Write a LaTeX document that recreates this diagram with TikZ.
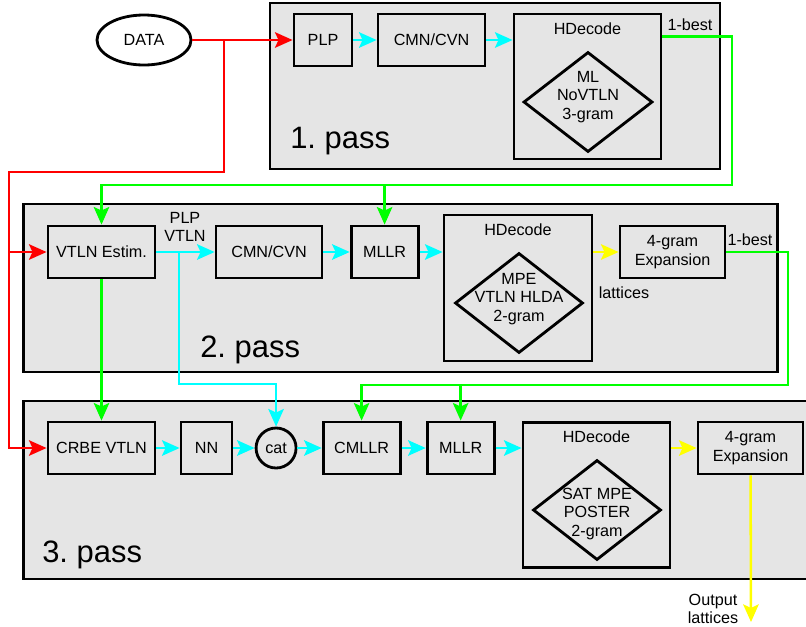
\documentclass[tikz,border=0pt]{standalone}
\usepackage{fontspec}
\setmainfont{Liberation Sans}
\usepackage{tikz}
\usetikzlibrary{shapes.geometric,arrows.meta,positioning,calc}

\definecolor{boxgray}{HTML}{E5E5E5}
\definecolor{wirered}{RGB}{255,0,0}
\definecolor{wirecyan}{RGB}{0,255,255}
\definecolor{wiregreen}{RGB}{0,255,0}
\definecolor{wireyellow}{RGB}{255,255,0}
\newcommand{\boxfont}{\fontsize{11.5}{13}\selectfont}
\newcommand{\passfont}{\fontsize{22}{26}\selectfont}
\frenchspacing

\begin{document}
\begin{tikzpicture}[
    x=0.025cm, y=-0.025cm,
    font=\boxfont,
    box/.style={rectangle, draw=black, fill=boxgray, line width=2pt, align=center, inner sep=0pt, minimum height=1.3cm},
    dec/.style={box, minimum width=3.675cm, minimum height=3.625cm, label={[anchor=center, yshift=-0.4cm]north:HDecode}},
    dia/.style={diamond, draw=black, fill=boxgray, line width=2pt, inner sep=0pt, minimum width=3.2cm, minimum height=2.5cm},
    passbox/.style={rectangle, draw=black, fill=boxgray, line width=2pt, inner sep=0pt},
    txt/.style={inner sep=0pt, align=center},
    arr/.style={-{Stealth[length=12.5pt, width=11pt, inset=2.5pt]}, line width=1.8pt, line join=miter}
]
    \useasboundingbox (0,0) rectangle (806,626);

    % the three passes
    \node [passbox, minimum width=11.25cm, minimum height=4.15cm] (pass1) at (495,86) {};
    \node [passbox, minimum width=18.825cm, minimum height=4.2cm] (pass2) at (400.5,288) {};
    \node [passbox, minimum width=19.7cm, minimum height=4.45cm] (pass3) at (418,490) {};
    \node [anchor=base west, font=\passfont, inner sep=0pt] (p1) at (290,148) {1. pass};
    \node [anchor=base west, font=\passfont, inner sep=0pt] (p2) at (200,357) {2. pass};
    \node [anchor=base west, font=\passfont, inner sep=0pt] (p3) at (42,562) {3. pass};

    \node [ellipse, draw=black, fill=white, line width=2pt, minimum width=2.35cm, minimum height=1.25cm, inner sep=0pt] (data) at (144,40) {DATA};

    % 1. pass
    \node [box, minimum width=1.45cm] (plp) at (323,40) {PLP};
    \node [box, minimum width=2.675cm, right=0.58cm of plp] (cmn1) {CMN/CVN};
    \node [dec] (hd1) at (587.5,86.5) {};
    \node [dia, minimum width=3.225cm] (d1) at (588,102) {};
    \node [txt] (t1) at (588,97) {ML\\NoVTLN\\3-gram};

    % 2. pass
    \node [box, minimum width=2.675cm] (vtln) at (101.5,252) {VTLN Estim.};
    \node [box, minimum width=2.65cm, right=1.455cm of vtln] (cmn2) {CMN/CVN};
    \node [box, minimum width=1.675cm, right=0.655cm of cmn2] (mllr2) {MLLR};
    \node [dec, minimum width=3.7cm, minimum height=3.65cm] (hd2) at (518,288) {};
    \node [dia] (d2) at (519,303) {};
    \node [txt] (t2) at (519,299) {MPE\\VTLN HLDA\\2-gram};
    \node [box, minimum width=2.625cm] (gram2) at (672.5,252) {4-gram\\Expansion};

    % 3. pass
    \node [box, minimum width=2.675cm] (crbe) at (101.5,448) {CRBE VTLN};
    \node [box, minimum width=1.275cm, right=0.58cm of crbe] (nn) {NN};
    \node [circle, draw=black, fill=boxgray, line width=2pt, inner sep=0pt, minimum size=1cm, right=0.53cm of nn] (cat) {cat};
    \node [box, minimum width=1.925cm, right=0.605cm of cat] (cmllr) {CMLLR};
    \node [box, minimum width=1.675cm, right=0.605cm of cmllr] (mllr3) {MLLR};
    \node [dec] (hd3) at (596.5,495) {};
    \node [dia] (d3) at (597,510) {};
    \node [txt] (t3) at (597,514) {SAT MPE\\POSTER\\2-gram};
    \node [box, minimum width=2.625cm] (gram3) at (750.5,448) {4-gram\\Expansion};

    % labels on the wires
    \node [txt] (best1) at (690,25) {1-best};
    \node [txt] (best2) at (750,240) {1-best};
    \node [txt] (plpv) at (185,227) {PLP\\VTLN};
    \node [txt] (lat) at (624,293) {lattices};
    \node [txt] (outl) at (713,609) {Output\\lattices};

    \coordinate (rs) at (224,40);
    \coordinate (rl) at (9,172);
    \coordinate (g1) at (732,185);
    \coordinate (g2) at (788,385);
    \coordinate (cs) at (179,252);
    \coordinate (cc) at (179,384);
    \coordinate (out) at (751,622);

    % data input
    \draw [arr, draw=wirered] (data) -- (plp);
    \draw [arr, draw=wirered] (rs) |- (rl) |- (vtln);
    \draw [arr, draw=wirered] (rl) |- (crbe);

    % features
    \draw [arr, draw=wirecyan] (plp) -- (cmn1);
    \draw [arr, draw=wirecyan] (cmn1) -- (cmn1 -| hd1.west);
    \draw [arr, draw=wirecyan] (vtln) -- (cmn2);
    \draw [arr, draw=wirecyan] (cmn2) -- (mllr2);
    \draw [arr, draw=wirecyan] (mllr2) -- (mllr2 -| hd2.west);
    \draw [arr, draw=wirecyan] (cs) -- (cc) -| (cat);
    \draw [arr, draw=wirecyan] (crbe) -- (nn);
    \draw [arr, draw=wirecyan] (nn) -- (cat);
    \draw [arr, draw=wirecyan] (cat) -- (cmllr);
    \draw [arr, draw=wirecyan] (cmllr) -- (mllr3);
    \draw [arr, draw=wirecyan] (mllr3) -- (mllr3 -| hd3.west);

    % hypotheses
    \draw [arr, draw=wiregreen] ([yshift=-0.6cm]hd1.north east) -| (g1) -| (vtln);
    \draw [arr, draw=wiregreen] (g1) -| (mllr2);
    \draw [arr, draw=wiregreen] (vtln) -- (crbe);
    \draw [arr, draw=wiregreen] (gram2) -| (g2) -| (cmllr);
    \draw [arr, draw=wiregreen] (g2) -| (mllr3);

    % lattices
    \draw [arr, draw=wireyellow] (hd2.east |- gram2) -- (gram2);
    \draw [arr, draw=wireyellow] (hd3.east |- gram3) -- (gram3);
    \draw [arr, draw=wireyellow] (gram3) -- (out);
\end{tikzpicture}
\end{document}
